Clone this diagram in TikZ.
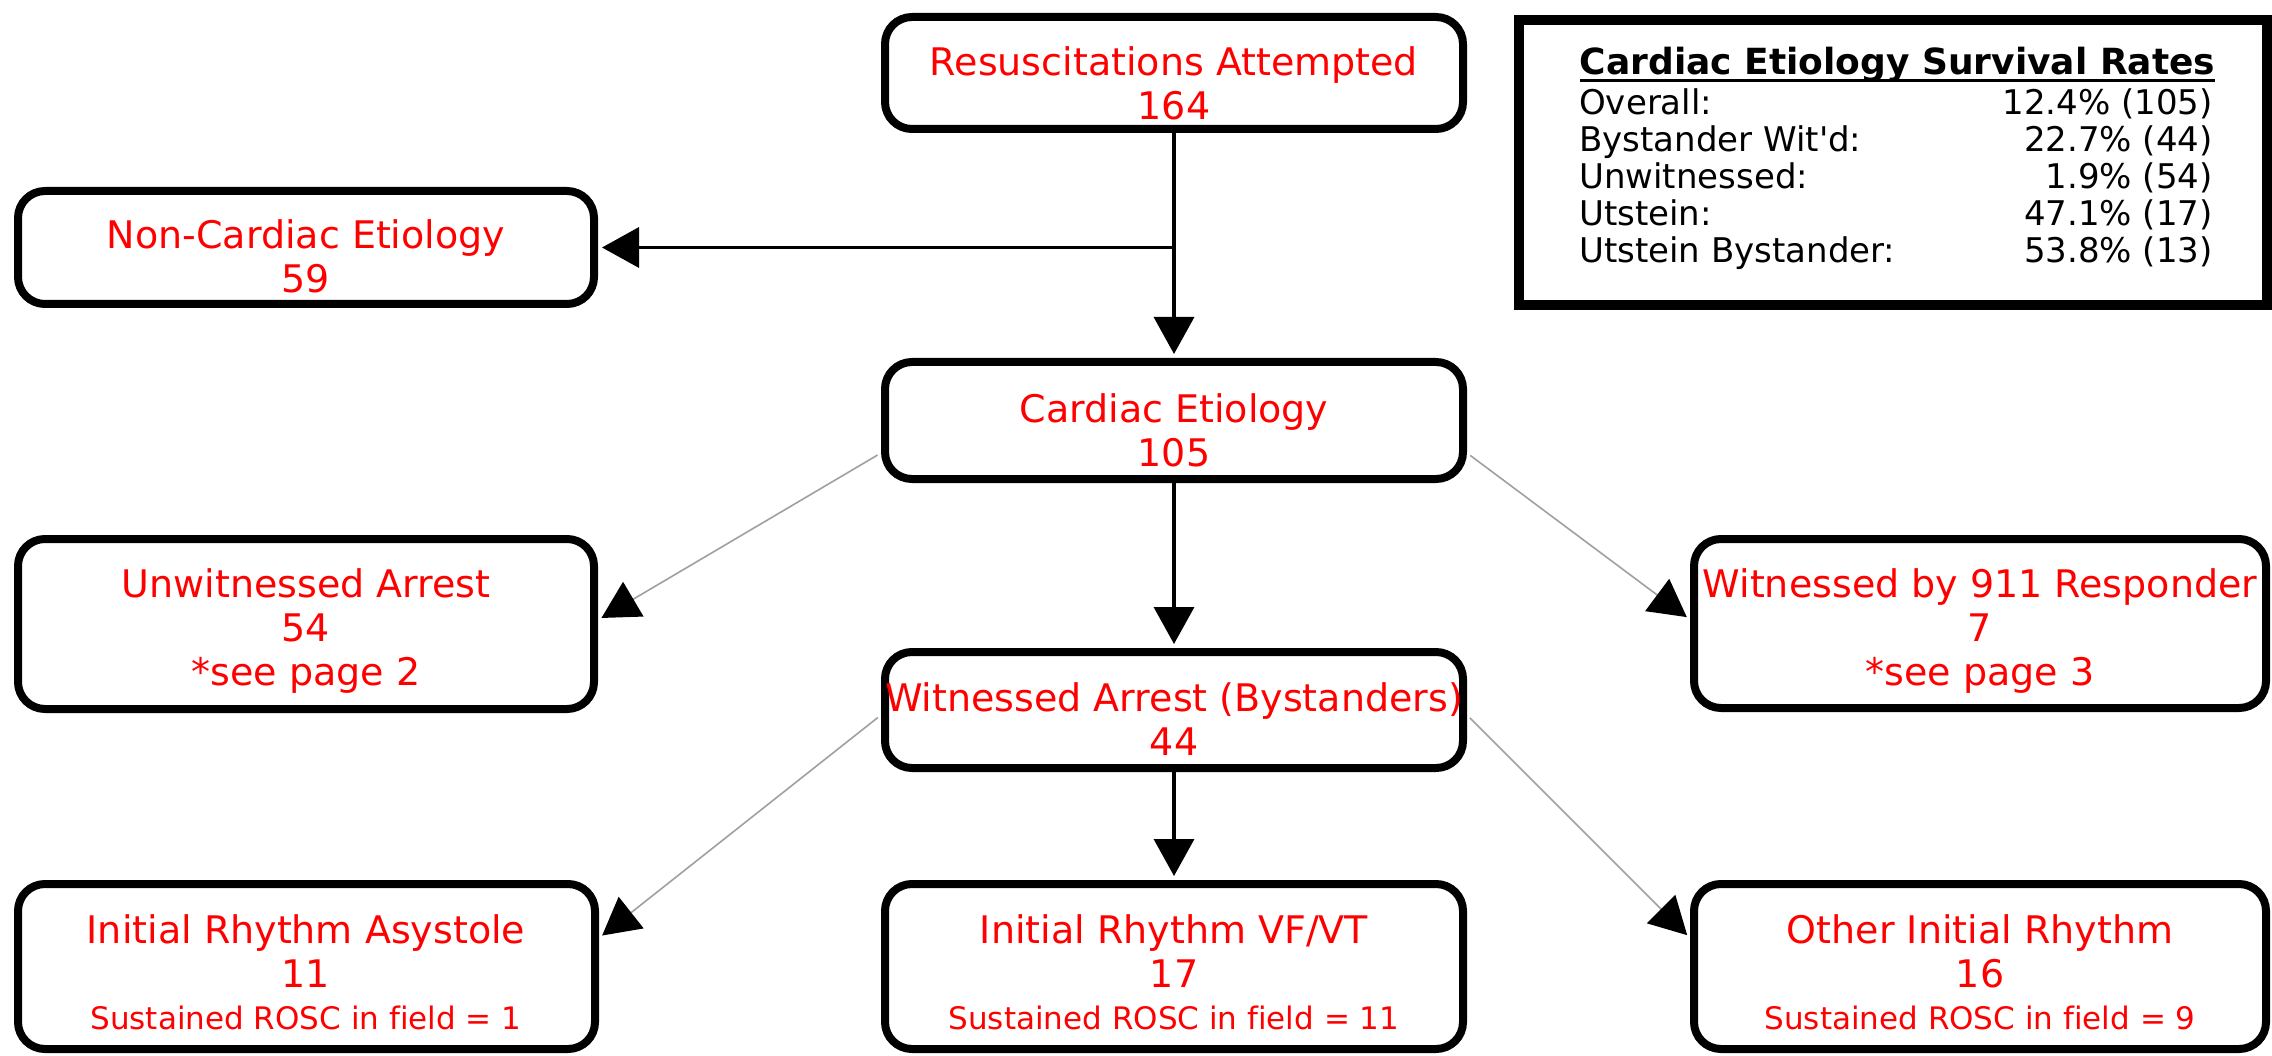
\documentclass[tikz,border=0pt]{standalone}
\usepackage{fontspec}
\setmainfont{DejaVu Sans}
\newfontfamily\sumfont{DejaVu Sans}
\newfontfamily\nolig{DejaVu Sans}[Ligatures=NoCommon]
\usetikzlibrary{arrows.meta}
\definecolor{txtred}{RGB}{255,0,0}
\definecolor{linegray}{RGB}{160,160,160}
\begin{document}
\begin{tikzpicture}[x=1pt,y=-1pt,
  box/.style={draw=black, line width=8pt, rounded corners=27pt, fill=white, inner sep=0pt},
  txt/.style={text=txtred, align=center, font=\fontsize{38}{44}\selectfont, inner sep=0pt},
  small/.style={text=txtred, font=\nolig\fontsize{31}{36}\selectfont, inner sep=0pt},
  sumtxt/.style={font=\sumfont\fontsize{34}{37}\selectfont, inner sep=0pt},
  flow/.style={line width=3.5pt, -{Triangle[length=37pt,width=40pt]}, shorten >=4pt},
  side/.style={draw=linegray, line width=1.6pt, -{Triangle[length=37pt,width=40pt,color=black]}, shorten >=4pt, shorten <=4pt}]
\useasboundingbox (0,0) rectangle (2272,1056);
\fill[white] (0,0) rectangle (2272,1056);

% boxes
\node[box, minimum width=578pt, minimum height=112pt] (resus) at (1174,73) {};
\node[box, minimum width=576pt, minimum height=113pt] (noncard) at (306,247.5) {};
\node[box, minimum width=578pt, minimum height=117pt] (card) at (1174,420.5) {};
\node[box, minimum width=578pt, minimum height=116pt] (wit) at (1174,710) {};
\node[box, minimum width=576pt, minimum height=170pt] (unw) at (306,624) {};
\node[box, minimum width=572pt, minimum height=169pt] (w911) at (1980,623.5) {};
\node[box, minimum width=577pt, minimum height=165pt] (asys) at (306.5,966.5) {};
\node[box, minimum width=578pt, minimum height=165pt] (vf) at (1174,966.5) {};
\node[box, minimum width=572pt, minimum height=165pt] (other) at (1980,966.5) {};

% texts
\node[txt] (resus-t) at (1174,83) {Resuscitations Attempted\\164};
\node[txt] (noncard-t) at (306,256) {Non-Cardiac Etiology\\59};
\node[txt] (card-t) at (1174,430) {Cardiac Etiology\\105};
\node[txt] (wit-t) at (1174,719) {Witnessed Arrest (Bystanders)\\44};
\node[txt] (unw-t) at (306,631) {Unwitnessed Arrest\\54\\*see page 2};
\node[txt] (w911-t) at (1980,631) {Witnessed by 911 Responder\\7\\*see page 3};
\node[txt] (asys-t) at (306,951) {Initial Rhythm Asystole\\11};
\node[small] (asys-s) at (306,1018) {Sustained ROSC in field = 1};
\node[txt] (vf-t) at (1174,951) {Initial Rhythm VF/VT\\17};
\node[small] (vf-s) at (1174,1018) {Sustained ROSC in field = 11};
\node[txt] (other-t) at (1980,951) {Other Initial Rhythm\\16};
\node[small] (other-s) at (1980,1018) {Sustained ROSC in field = 9};

% connectors
\coordinate (branch) at (resus.south |- noncard.east);
\draw[flow] (resus.south) -- (card.north);
\draw[flow] (branch) -- (noncard.east);
\draw[flow] (card.south) -- (wit.north);
\draw[flow] (wit.south) -- (vf.north);
\draw[side] ([yshift=-32.5pt]card.west) -- ([yshift=4pt]unw.east);
\draw[side] ([yshift=-32.5pt]card.east) -- ([yshift=4pt]w911.west);
\draw[side] ([yshift=-5pt]wit.west) -- ([yshift=28.5pt]asys.east);
\draw[side] ([yshift=-5pt]wit.east) -- ([yshift=28.5pt]other.west);

% summary box
\node[draw=black, line width=10pt, fill=white, minimum width=748pt, minimum height=285pt, inner sep=0pt] (sumbox) at (1893,162.5) {};
\node[font=\sumfont\bfseries\fontsize{36}{40}\selectfont, inner sep=0pt, anchor=base] (sum-title) at (1897.5,75) {Cardiac Etiology Survival Rates};
\draw[line width=3pt] ([yshift=-6pt]sum-title.base west) -- ([yshift=-6pt]sum-title.base east);
\node[sumtxt, anchor=base west] (sum-l1) at (1579,115) {Overall:};
\node[sumtxt, anchor=base west] (sum-l2) at (1579,152) {Bystander Wit'd:};
\node[sumtxt, anchor=base west] (sum-l3) at (1579,189) {Unwitnessed:};
\node[sumtxt, anchor=base west] (sum-l4) at (1579,226) {Utstein:};
\node[sumtxt, anchor=base west] (sum-l5) at (1579,263) {Utstein Bystander:};
\node[sumtxt, anchor=base east] (sum-r1) at (2213,115) {12.4\% (105)};
\node[sumtxt, anchor=base east] (sum-r2) at (2213,152) {22.7\% (44)};
\node[sumtxt, anchor=base east] (sum-r3) at (2213,189) {1.9\% (54)};
\node[sumtxt, anchor=base east] (sum-r4) at (2213,226) {47.1\% (17)};
\node[sumtxt, anchor=base east] (sum-r5) at (2213,263) {53.8\% (13)};
\end{tikzpicture}
\end{document}
